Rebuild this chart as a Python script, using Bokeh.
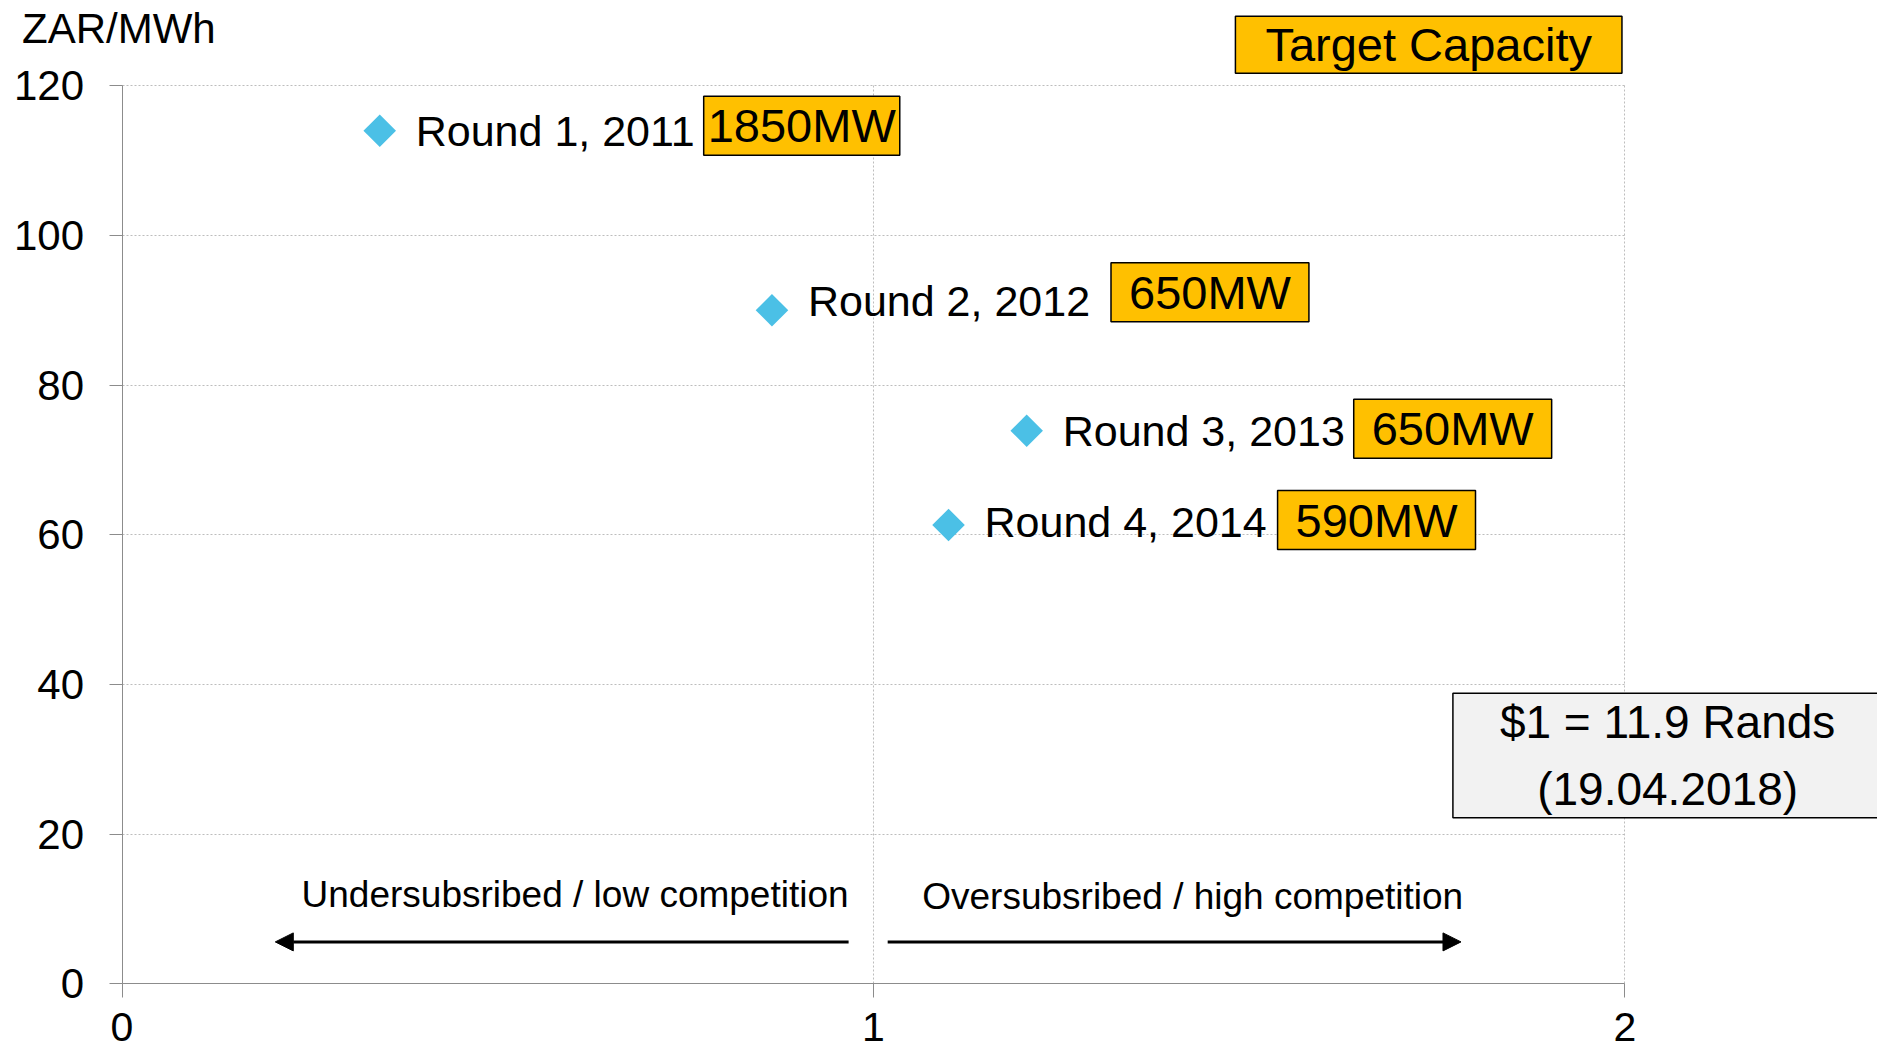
import numpy as np
from bokeh.plotting import figure
from bokeh.models import (ColumnDataSource, Range1d, LabelSet, Label, Arrow,
                          NormalHead, FixedTicker, LinearAxis, Grid)
from bokeh.core.properties import value
from bokeh.embed import file_html
from bokeh.resources import INLINE

# ---------------- data ----------------
rounds = ["Round 1, 2011", "Round 2, 2012", "Round 3, 2013", "Round 4, 2014"]
subscription = [0.343, 0.865, 1.204, 1.100]     # x: subscription ratio
tariff = [114.0, 90.0, 73.9, 61.3]              # y: ZAR/MWh
capacity = ["1850MW", "650MW", "650MW", "590MW"]
x_ticks = [0, 1, 2]
y_ticks = [0, 20, 40, 60, 80, 100, 120]
y_unit = "ZAR/MWh"
capacity_title = "Target Capacity"
fx_note = "$1 = 11.9 Rands\n(19.04.2018)"
left_note = "Undersubsribed / low competition"
right_note = "Oversubsribed / high competition"

# ---------------- layout / style ----------------
FONT = "Liberation Sans"
label_dy = [0, 9, 0, 3]            # screen px offsets of round labels
box_dx = [422, 438, 426, 428]      # screen px offsets of capacity boxes
box_dy = [5, 18, 2, 5]
ARIAL_W = {**{d: 0.556 for d in "0123456789"}, "M": 0.833, "W": 0.944}
GRID_COLOR = "#bdbdbd"
AXIS_COLOR = "#8c8c8c"

p = figure(width=1877, height=1053, output_backend="svg", toolbar_location=None,
           x_range=Range1d(-0.1617, 2.3363), y_range=Range1d(-9.314, 131.40),
           x_axis_type=None, y_axis_type=None,
           min_border_left=0, min_border_right=0,
           min_border_top=0, min_border_bottom=0)
p.outline_line_color = None
p.background_fill_color = "white"
p.border_fill_color = "white"

# ---- grids limited to the data area ----
if "cross_bounds" in Grid.properties():
    xg = Grid(dimension=0, ticker=FixedTicker(ticks=x_ticks), cross_bounds=(0, 120))
    yg = Grid(dimension=1, ticker=FixedTicker(ticks=y_ticks), cross_bounds=(0, 2))
    for g in (xg, yg):
        g.grid_line_color = GRID_COLOR
        g.grid_line_dash = "2 2"
        g.grid_line_width = 1
        p.add_layout(g, "center")
else:
    gx = [[t, t] for t in x_ticks] + [[0, 2] for _ in y_ticks]
    gy = [[0, 120] for _ in x_ticks] + [[t, t] for t in y_ticks]
    p.multi_line(xs=gx, ys=gy, line_color=GRID_COLOR, line_dash="2 2", line_width=1)

# ---- axes drawn at data origin ----
xaxis = LinearAxis(fixed_location=0, ticker=FixedTicker(ticks=x_ticks), bounds=(0, 2))
yaxis = LinearAxis(fixed_location=0, ticker=FixedTicker(ticks=y_ticks), bounds=(0, 120))
for ax in (xaxis, yaxis):
    ax.axis_line_color = AXIS_COLOR
    ax.axis_line_width = 1
    ax.major_tick_line_color = AXIS_COLOR
    ax.minor_tick_line_color = None
    ax.major_tick_in = 0
    ax.major_label_text_font = FONT
    ax.major_label_text_font_size = "42px"
    ax.major_label_text_color = "black"
yaxis.major_tick_out = 13
yaxis.major_label_standoff = 25
xaxis.major_tick_out = 14
xaxis.major_label_standoff = 15
xaxis.major_label_text_font_size = "41px"
p.add_layout(xaxis, "below")
p.add_layout(yaxis, "left")

src = ColumnDataSource(dict(x=subscription, y=tariff, name=rounds, cap=capacity,
                            dy=label_dy))

p.scatter("x", "y", source=src, marker="square", size=23, angle=np.pi / 4,
          fill_color="#4BC0E6", line_color=None)

p.add_layout(LabelSet(x="x", y="y", text="name", source=src, x_offset=36, y_offset="dy",
                      text_font=value(FONT), text_font_size="43px",
                      text_baseline="middle", text_align="left", text_color="black"))

for xv, yv, cap, dx, dy in zip(subscription, tariff, capacity, box_dx, box_dy):
    tw = sum(ARIAL_W[c] for c in cap) * 47
    ph = max(int(round((197 - tw) / 2)), 2)
    p.add_layout(Label(x=xv, y=yv, x_offset=dx, y_offset=dy, text=cap,
                       text_font=FONT, text_font_size="47px", text_color="black",
                       text_align="center", text_baseline="middle",
                       background_fill_color="#FFC000", border_line_color="black",
                       border_line_width=1.5,
                       padding=dict(left=ph, right=ph, top=3, bottom=3)))

# Target capacity legend box
p.add_layout(Label(x=1.739, y=125.5, text=capacity_title,
                   text_font=FONT, text_font_size="47px", text_color="black",
                   text_align="center", text_baseline="middle",
                   background_fill_color="#FFC000", border_line_color="black",
                   border_line_width=1.5,
                   padding=dict(left=30, right=30, top=2, bottom=2)))

# unit label
p.add_layout(Label(x=-0.133, y=127.6, text=y_unit, text_font=FONT,
                   text_font_size="42px", text_color="black",
                   text_align="left", text_baseline="middle"))

# exchange-rate note
p.add_layout(Label(x=2.057, y=30.5, text=fx_note, text_font=FONT,
                   text_font_size="46px", text_color="black", text_line_height=1.28,
                   text_align="center", text_baseline="middle",
                   background_fill_color="#F2F2F2", border_line_color="black",
                   border_line_width=1.5,
                   padding=dict(left=47, right=47, top=3, bottom=3)))

# competition arrows
arrow_y = 5.6
p.add_layout(Arrow(x_start=0.967, y_start=arrow_y, x_end=0.204, y_end=arrow_y,
                   line_width=3, line_color="black",
                   end=NormalHead(size=18, fill_color="black", line_color="black")))
p.add_layout(Arrow(x_start=1.019, y_start=arrow_y, x_end=1.782, y_end=arrow_y,
                   line_width=3, line_color="black",
                   end=NormalHead(size=18, fill_color="black", line_color="black")))
p.add_layout(Label(x=0.967, y=12.0, text=left_note, text_font=FONT,
                   text_font_size="37px", text_color="black",
                   text_align="right", text_baseline="middle"))
p.add_layout(Label(x=1.065, y=11.7, text=right_note, text_font=FONT,
                   text_font_size="37px", text_color="black",
                   text_align="left", text_baseline="middle"))

open("out.html", "w").write(file_html(p, INLINE))
